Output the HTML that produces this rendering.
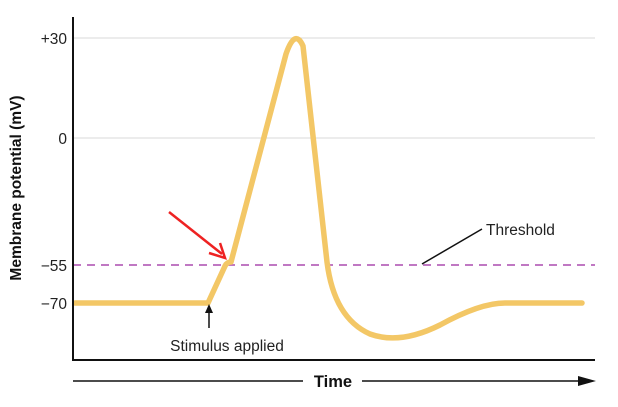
<!DOCTYPE html>
<html><head><style>body{margin:0;background:#fff}</style></head><body>
<svg width="618" height="402" xmlns="http://www.w3.org/2000/svg" font-family="Liberation Sans, sans-serif">
<rect width="618" height="402" fill="#fff"/>
<g stroke="#d8d8d8" stroke-width="1">
<line x1="73" y1="38" x2="595" y2="38"/>
<line x1="73" y1="138" x2="595" y2="138"/>
</g>
<line x1="73" y1="265" x2="595" y2="265" stroke="#b866bb" stroke-width="1.8" stroke-dasharray="8,6"/>
<path d="M75,303 L208,303 L225,266 Q227,262 231,262 L286,54 Q295,28 303,46 L327,262 Q334,318 370,334 Q400,345 440,325 Q480,303 505,303 L582,303" fill="none" stroke="#f3c766" stroke-width="5.5" stroke-linejoin="round" stroke-linecap="round"/>
<line x1="73" y1="17" x2="73" y2="361" stroke="#111" stroke-width="2"/>
<line x1="72" y1="360" x2="595" y2="360" stroke="#111" stroke-width="2"/>
<g font-size="15.5" fill="#222" text-anchor="end">
<text x="67" y="44">+30</text>
<text x="67" y="144">0</text>
<text x="67" y="271">−55</text>
<text x="67" y="309">−70</text>
</g>
<text transform="translate(21,188) rotate(-90)" font-size="15.5" font-weight="bold" text-anchor="middle" fill="#111">Membrane potential (mV)</text>
<line x1="209" y1="328" x2="209" y2="312" stroke="#111" stroke-width="1.5"/>
<polygon points="209,304 205,313 213,313" fill="#111"/>
<text x="227" y="351" font-size="15.5" text-anchor="middle" fill="#222">Stimulus applied</text>
<line x1="169" y1="212" x2="222" y2="254" stroke="#ee2222" stroke-width="2.5"/>
<polyline points="209,253 225,258 220,243" fill="none" stroke="#ee2222" stroke-width="2.5"/>
<line x1="422" y1="264" x2="482" y2="229" stroke="#111" stroke-width="1.5"/>
<text x="486" y="235" font-size="15.5" fill="#222">Threshold</text>
<line x1="73" y1="381" x2="303" y2="381" stroke="#111" stroke-width="1.5"/>
<text x="333" y="387" font-size="16.5" font-weight="bold" text-anchor="middle" fill="#111">Time</text>
<line x1="362" y1="381" x2="582" y2="381" stroke="#111" stroke-width="1.5"/>
<polygon points="596,381 578,376 578,386" fill="#111"/>
</svg>
</body></html>
